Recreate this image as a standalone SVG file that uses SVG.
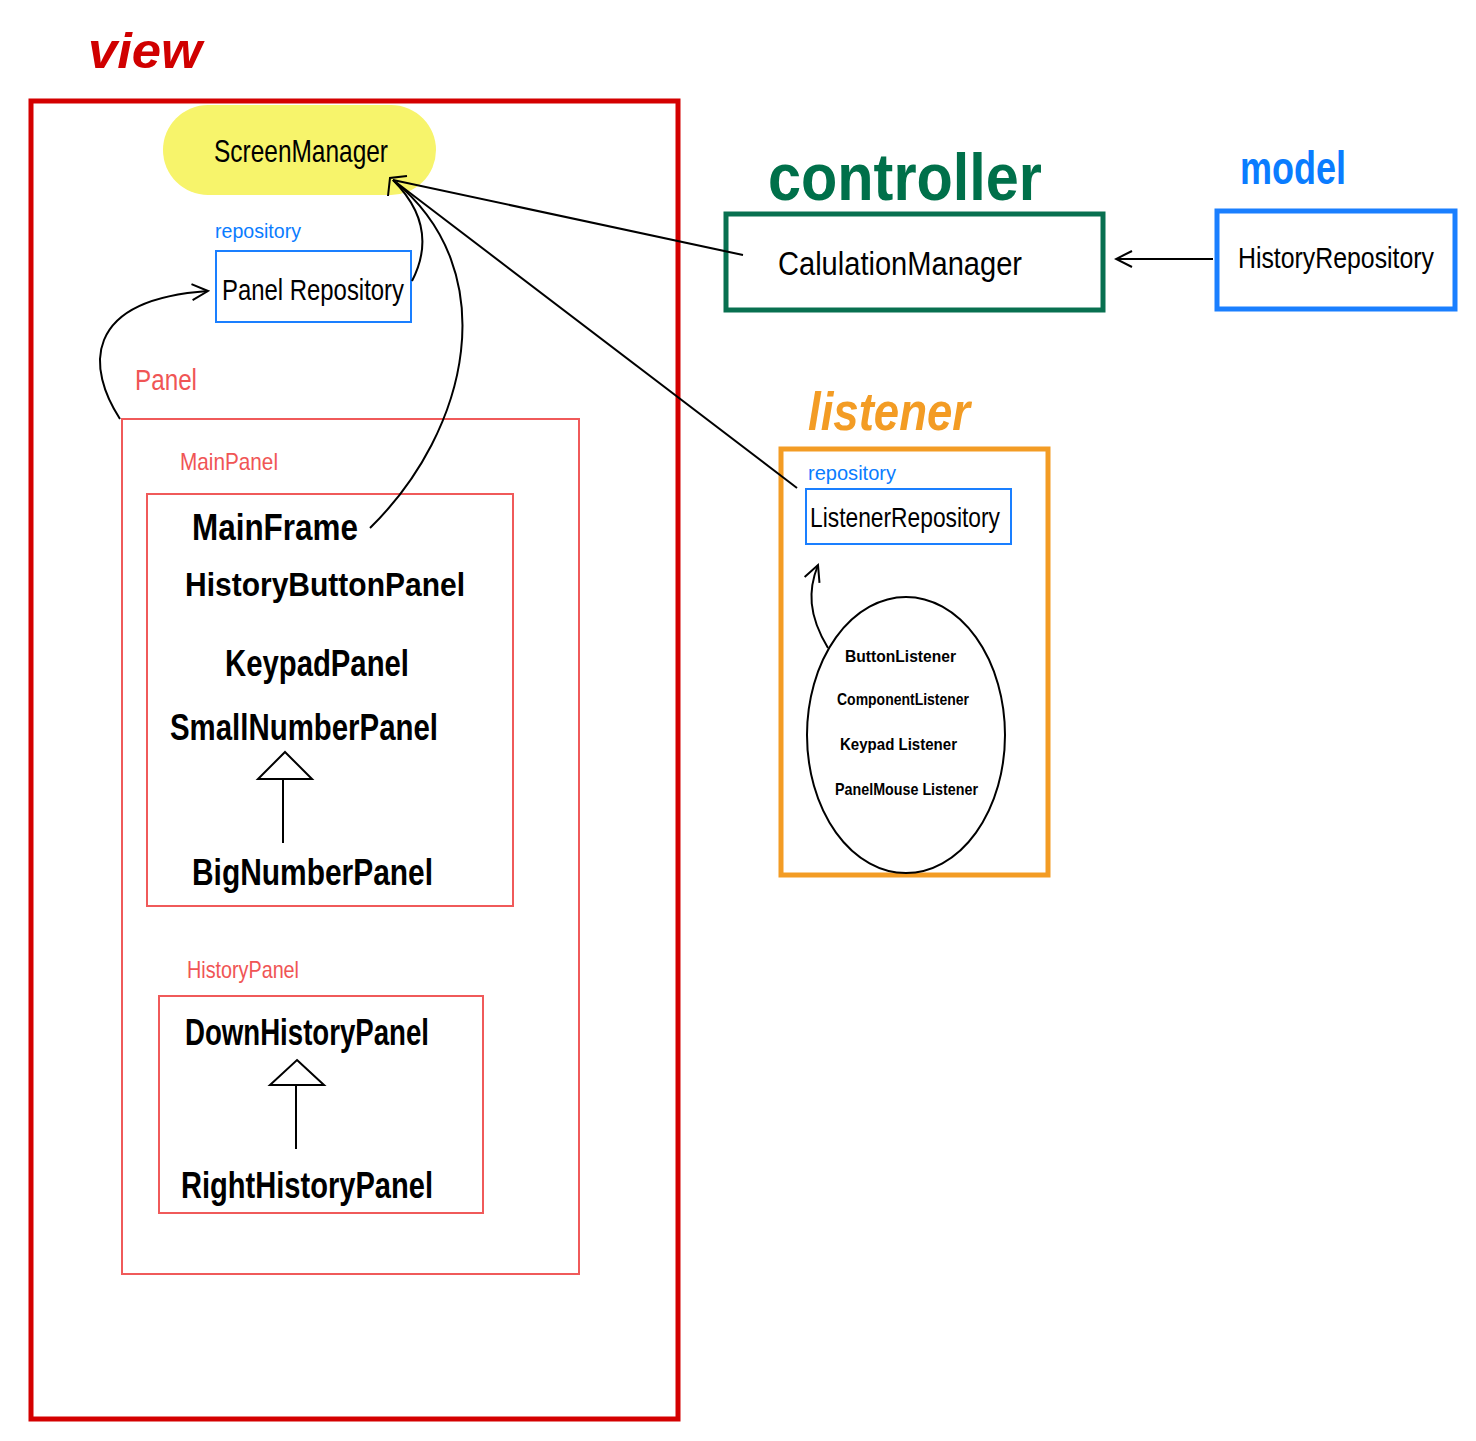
<svg xmlns="http://www.w3.org/2000/svg" width="1476" height="1441" viewBox="0 0 1476 1441">
<style>
text{font-family:"Liberation Sans","DejaVu Sans",sans-serif;}
.h{fill:#000;}
.b{font-weight:bold;fill:#000;}
.blue{fill:#0a7cff;}
.pink{fill:#f05555;}
.con{fill:none;stroke:#000;stroke-width:2;}
.thin{fill:none;stroke-width:2;}
</style>
<defs>
<marker id="open" viewBox="0 0 20 20" refX="18" refY="10" markerWidth="20" markerHeight="20" markerUnits="userSpaceOnUse" orient="auto">
<path d="M2 2 L18 10 L2 18" fill="none" stroke="#000" stroke-width="2"/>
</marker>
</defs>
<rect width="1476" height="1441" fill="#fff"/>

<g id="view">
<text x="88" y="68" font-size="50" font-weight="bold" fill="#d00000" font-style="italic" textLength="114" lengthAdjust="spacingAndGlyphs">view</text>
<rect x="31" y="101" width="647" height="1318" fill="none" stroke="#d40000" stroke-width="5"/>
</g>

<g id="screenManager">
<rect x="163" y="105" width="273" height="90" rx="45" fill="#f7f46b"/>
<text class="h" x="214" y="162" font-size="32" textLength="174" lengthAdjust="spacingAndGlyphs">ScreenManager</text>
</g>

<g id="panelRepository">
<text class="blue" x="215" y="238" font-size="20" textLength="86" lengthAdjust="spacingAndGlyphs">repository</text>
<rect x="216" y="251" width="195" height="71" fill="none" stroke="#1a7fff" stroke-width="2"/>
<text class="h" x="222" y="300" font-size="30" textLength="182" lengthAdjust="spacingAndGlyphs">Panel Repository</text>
</g>

<g id="panel">
<text class="pink" x="135" y="390" font-size="30" textLength="62" lengthAdjust="spacingAndGlyphs">Panel</text>
<rect x="122" y="419" width="457" height="855" fill="none" stroke="#f05a5a" stroke-width="2"/>
</g>

<g id="mainPanel">
<text class="pink" x="180" y="470" font-size="24" textLength="98" lengthAdjust="spacingAndGlyphs">MainPanel</text>
<rect x="147" y="494" width="366" height="412" fill="none" stroke="#f05a5a" stroke-width="2"/>
<text class="b" x="192" y="540" font-size="36" textLength="166" lengthAdjust="spacingAndGlyphs">MainFrame</text>
<text class="b" x="185" y="596" font-size="34" textLength="280" lengthAdjust="spacingAndGlyphs">HistoryButtonPanel</text>
<text class="b" x="225" y="676" font-size="36" textLength="184" lengthAdjust="spacingAndGlyphs">KeypadPanel</text>
<text class="b" x="170" y="740" font-size="36" textLength="268" lengthAdjust="spacingAndGlyphs">SmallNumberPanel</text>
<text class="b" x="192" y="885" font-size="36" textLength="241" lengthAdjust="spacingAndGlyphs">BigNumberPanel</text>
<path d="M285 752 L312 779 L258 779 Z" fill="#fff" stroke="#000" stroke-width="2"/>
<line x1="283" y1="779" x2="283" y2="843" stroke="#000" stroke-width="2"/>
</g>

<g id="historyPanel">
<text class="pink" x="187" y="978" font-size="24" textLength="112" lengthAdjust="spacingAndGlyphs">HistoryPanel</text>
<rect x="159" y="996" width="324" height="217" fill="none" stroke="#f05a5a" stroke-width="2"/>
<text class="b" x="185" y="1045" font-size="36" textLength="244" lengthAdjust="spacingAndGlyphs">DownHistoryPanel</text>
<path d="M297 1060 L324 1085 L270 1085 Z" fill="#fff" stroke="#000" stroke-width="2"/>
<line x1="296" y1="1085" x2="296" y2="1149" stroke="#000" stroke-width="2"/>
<text class="b" x="181" y="1198" font-size="36" textLength="252" lengthAdjust="spacingAndGlyphs">RightHistoryPanel</text>
</g>

<g id="controller">
<text x="768" y="200" font-size="66" font-weight="bold" fill="#00704a" textLength="274" lengthAdjust="spacingAndGlyphs">controller</text>
<rect x="726" y="214" width="377" height="96" fill="none" stroke="#087050" stroke-width="5"/>
<text class="h" x="778" y="275" font-size="34" textLength="244" lengthAdjust="spacingAndGlyphs">CalulationManager</text>
</g>

<g id="model">
<text class="blue" x="1240" y="184" font-size="46" font-weight="bold" textLength="106" lengthAdjust="spacingAndGlyphs">model</text>
<rect x="1217" y="211" width="238" height="98" fill="none" stroke="#1a7fff" stroke-width="5"/>
<text class="h" x="1238" y="268" font-size="30" textLength="196" lengthAdjust="spacingAndGlyphs">HistoryRepository</text>
</g>

<g id="listener">
<text x="808" y="430" font-size="54" font-weight="bold" fill="#f39c24" font-style="italic" textLength="162" lengthAdjust="spacingAndGlyphs">listener</text>
<rect x="781" y="449" width="267" height="426" fill="none" stroke="#f39c24" stroke-width="5"/>
<text class="blue" x="808" y="480" font-size="20" textLength="88" lengthAdjust="spacingAndGlyphs">repository</text>
<rect x="806" y="489" width="205" height="55" fill="none" stroke="#1a7fff" stroke-width="2"/>
<text class="h" x="810" y="527" font-size="28" textLength="190" lengthAdjust="spacingAndGlyphs">ListenerRepository</text>
</g>

<g id="listenerGroup">
<ellipse cx="906" cy="735" rx="99" ry="138" fill="none" stroke="#000" stroke-width="2"/>
<text class="b" x="845" y="662" font-size="17" textLength="111" lengthAdjust="spacingAndGlyphs">ButtonListener</text>
<text class="b" x="837" y="705" font-size="17" textLength="132" lengthAdjust="spacingAndGlyphs">ComponentListener</text>
<text class="b" x="840" y="750" font-size="17" textLength="117" lengthAdjust="spacingAndGlyphs">Keypad Listener</text>
<text class="b" x="835" y="795" font-size="17" textLength="143" lengthAdjust="spacingAndGlyphs">PanelMouse Listener</text>
</g>

<g id="connectors">
<path class="con" d="M120 419 C 88 370 80 300 208 291" marker-end="url(#open)"/>
<path class="con" d="M412 281 C 428 250 428 215 393 180"/>
<path class="con" d="M370 528 C 470 430 505 270 393 180"/>
<line x1="743" y1="255" x2="393" y2="180" stroke="#000" stroke-width="2"/>
<line x1="797" y1="488" x2="393" y2="180" stroke="#000" stroke-width="2"/>
<path d="M388 196 L390 178 L407 176" fill="none" stroke="#000" stroke-width="2"/>
<line x1="1213" y1="259" x2="1116" y2="259" stroke="#000" stroke-width="2" marker-end="url(#open)"/>
<path class="con" d="M828 648 C 808 615 808 590 818 565" marker-end="url(#open)"/>
</g>
</svg>
